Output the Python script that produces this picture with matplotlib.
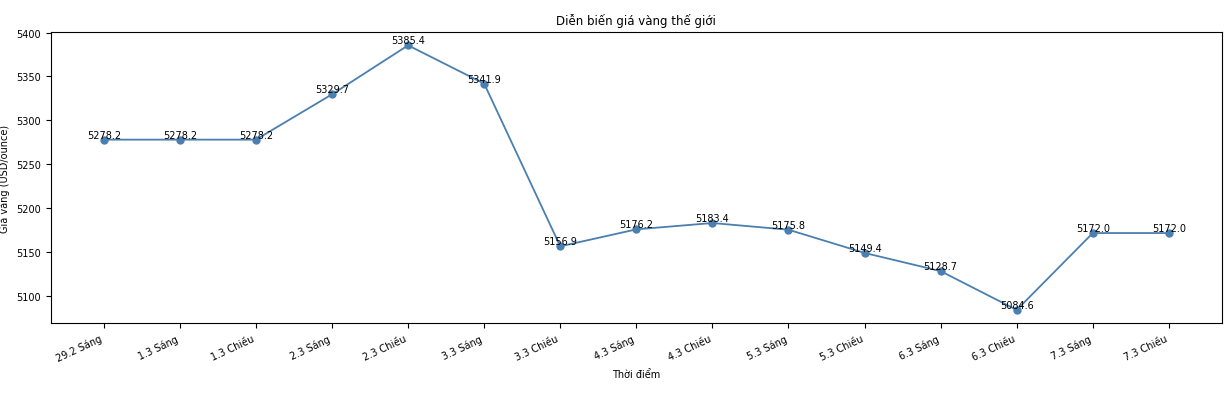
import matplotlib.pyplot as plt

# dữ liệu giá vàng thế giới
labels = ["29.2 Sáng", "1.3 Sáng", "1.3 Chiều", "2.3 Sáng", "2.3 Chiều", "3.3 Sáng",
          "3.3 Chiều", "4.3 Sáng", "4.3 Chiều", "5.3 Sáng", "5.3 Chiều", "6.3 Sáng",
          "6.3 Chiều", "7.3 Sáng", "7.3 Chiều"]
prices = [5278.2, 5278.2, 5278.2, 5329.7, 5385.4, 5341.9, 5156.9, 5176.2,
          5183.4, 5175.8, 5149.4, 5128.7, 5084.6, 5172.0, 5172.0]

fig, ax = plt.subplots(figsize=(12.32, 4.14), dpi=100)
fig.subplots_adjust(left=0.041, right=0.992, top=0.92, bottom=0.217)

x = list(range(len(labels)))
ax.plot(x, prices, marker="o", markersize=5, color="#4a7fb0", linewidth=1.3)
for xi, v in zip(x, prices):
    ax.text(xi, v, f"{v:.1f}", ha="center", va="bottom", fontsize=7)

ax.set_xticks(x)
ax.set_xticklabels(labels, rotation=25, ha="right", fontsize=7)
ax.tick_params(axis="y", labelsize=7)
ax.set_xlabel("Thời điểm", fontsize=7)
ax.set_ylabel("Giá vàng (USD/ounce)", fontsize=7)
ax.set_title("Diễn biến giá vàng thế giới", fontsize=8.5)

fig.savefig("out.png")
